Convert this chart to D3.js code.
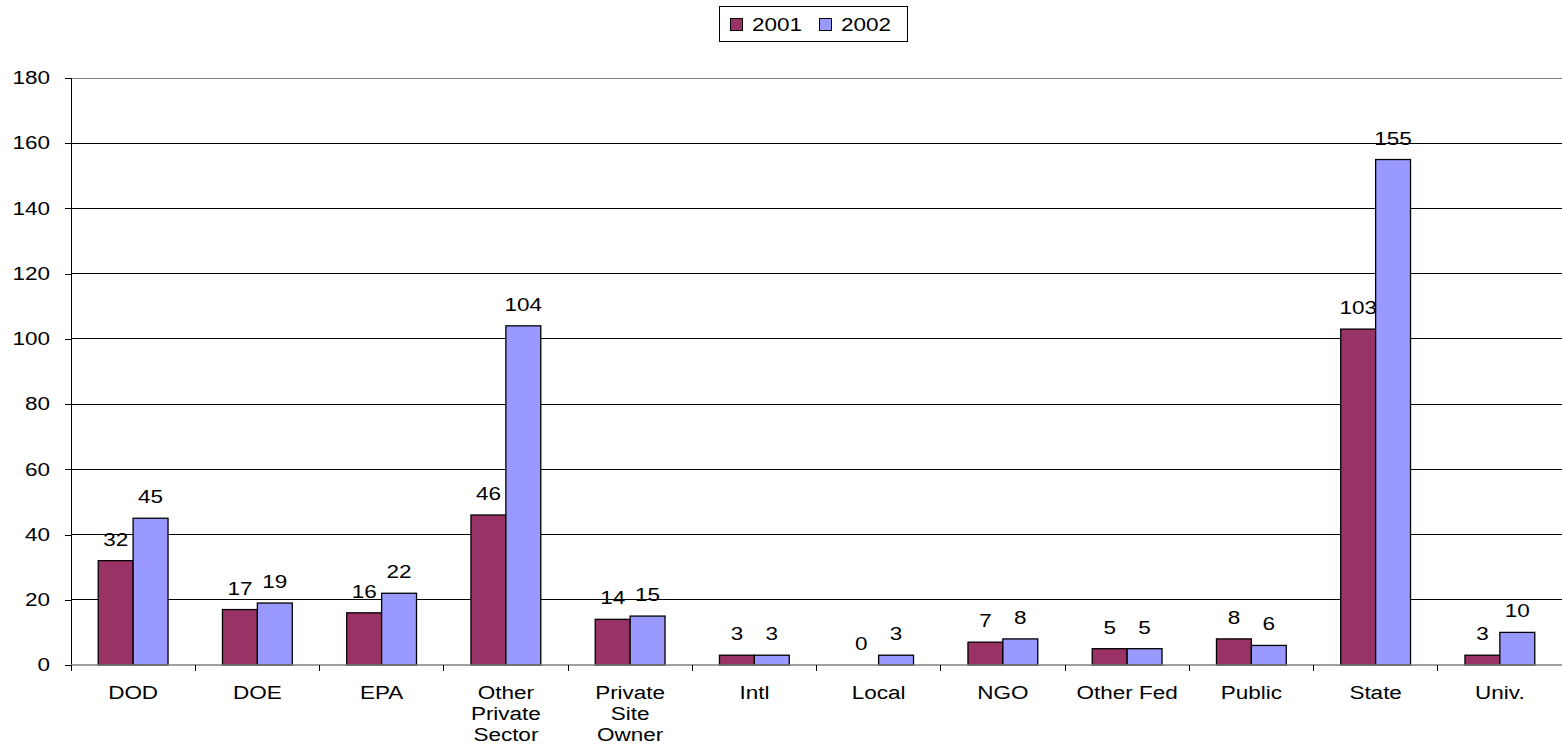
<!DOCTYPE html>
<html>
<head>
<meta charset="utf-8">
<script src="https://cdn.jsdelivr.net/npm/d3@7"></script>
<style>
  body { margin: 0; background: #fff; }
  text { font-family: "Liberation Sans", Arial, sans-serif; fill: #000; font-size: 18px; }
</style>
</head>
<body>
<svg id="chart"></svg>
<script>
let categories = ['DOD', 'DOE', 'EPA', 'Other Private Sector', 'Private Site Owner', 'Intl', 'Local', 'NGO', 'Other Fed', 'Public', 'State', 'Univ.']
let catLines = [['DOD'], ['DOE'], ['EPA'], ['Other', 'Private', 'Sector'], ['Private', 'Site', 'Owner'], ['Intl'], ['Local'], ['NGO'], ['Other Fed'], ['Public'], ['State'], ['Univ.']]
let seriesNames = ['2001', '2002']
let values2001 = [32, 17, 16, 46, 14, 3, 0, 7, 5, 8, 103, 3]
let values2002 = [45, 19, 22, 104, 15, 3, 3, 8, 5, 6, 155, 10]
let yTicks = [0, 20, 40, 60, 80, 100, 120, 140, 160, 180]
let colors = ['#993366', '#9999ff']

let width = 1562
let height = 750
let margin = { top: 78, right: 0, bottom: 85, left: 71 }
let stretch = 1.25
let svg = d3.select('#chart')
  .attr('width', width)
  .attr('height', height)

// text in the source is drawn a bit wider than normal
function widen (sel) {
  sel.each(function () {
    let tx = +this.getAttribute('x') || 0
    let ty = +this.getAttribute('y') || 0
    let old = this.getAttribute('transform') || ''
    this.setAttribute('transform', `${old} translate(${tx},${ty}) scale(${stretch},1) translate(${-tx},${-ty})`)
  })
}

let x = d3.scaleBand()
  .domain(categories)
  .range([margin.left, width - margin.right])
let x1 = d3.scaleBand()
  .domain(seriesNames)
  .range([0, x.bandwidth()])
  .paddingOuter(0.78)
let y = d3.scaleLinear()
  .domain([0, 180])
  .range([height - margin.bottom, margin.top])

// gridlines
svg.append('g')
  .selectAll('line')
  .data(yTicks.slice(1))
  .enter()
  .append('line')
  .attr('x1', margin.left)
  .attr('x2', width)
  .attr('y1', (d) => y(d))
  .attr('y2', (d) => y(d))
  .attr('stroke', (d) => d === 180 ? '#808080' : '#000')
  .attr('stroke-width', 1)
  .attr('shape-rendering', 'crispEdges')

// y axis
let yAxis = svg.append('g')
  .attr('transform', `translate(${margin.left},0)`)
  .call(d3.axisLeft(y).tickValues(yTicks).tickSize(6).tickPadding(15))
yAxis.select('.domain').attr('stroke', '#000')
yAxis.selectAll('line').attr('stroke', '#000')
yAxis.selectAll('text').style('font-size', '18px').call(widen)
yAxis.attr('shape-rendering', 'crispEdges')

// bars
let series = [values2001, values2002]
let groups = svg.append('g')
  .selectAll('g')
  .data(categories)
  .enter()
  .append('g')
  .attr('transform', (d) => `translate(${x(d)},0)`)

groups.selectAll('rect')
  .data((d, i) => series.map((s, k) => ({ name: seriesNames[k], value: s[i], k: k })))
  .enter()
  .append('rect')
  .attr('x', (d) => x1(d.name))
  .attr('width', x1.bandwidth())
  .attr('y', (d) => y(d.value))
  .attr('height', (d) => y(0) - y(d.value))
  .attr('fill', (d) => colors[d.k])
  .attr('stroke', '#000')
  .attr('stroke-width', 1.3)

groups.selectAll('text')
  .data((d, i) => series.map((s, k) => ({ name: seriesNames[k], value: s[i], k: k })))
  .enter()
  .append('text')
  .attr('x', (d) => x1(d.name) + x1.bandwidth() / 2)
  .attr('y', (d) => y(d.value) - 15)
  .attr('text-anchor', 'middle')
  .text((d) => d.value)
  .call(widen)

// x axis
let xAxis = svg.append('g')
  .attr('transform', `translate(0,${y(0)})`)
xAxis.append('line')
  .attr('x1', margin.left)
  .attr('x2', width)
  .attr('stroke', '#808080')
  .attr('stroke-width', 1.5)
xAxis.selectAll('.tick')
  .data(categories)
  .enter()
  .append('line')
  .attr('x1', (d) => x(d))
  .attr('x2', (d) => x(d))
  .attr('y1', 0)
  .attr('y2', 6)
  .attr('stroke', '#000')
  .attr('shape-rendering', 'crispEdges')
let labels = xAxis.selectAll('text')
  .data(categories)
  .enter()
  .append('text')
  .attr('text-anchor', 'middle')
  .attr('transform', (d) => `translate(${x(d) + x.bandwidth() / 2},34) scale(${stretch},1)`)
labels.selectAll('tspan')
  .data((d, i) => catLines[i])
  .enter()
  .append('tspan')
  .attr('x', 0)
  .attr('dy', (d, i) => i === 0 ? 0 : 21)
  .text((d) => d)

// legend
let legend = svg.append('g')
legend.append('rect')
  .attr('x', 719.5)
  .attr('y', 6.5)
  .attr('width', 188)
  .attr('height', 35)
  .attr('fill', '#fff')
  .attr('stroke', '#000')
let items = legend.selectAll('g')
  .data(seriesNames)
  .enter()
  .append('g')
  .attr('transform', (d, i) => `translate(${730 + i * 89},0)`)
items.append('rect')
  .attr('x', 0.5)
  .attr('y', 18.5)
  .attr('width', 12)
  .attr('height', 12)
  .attr('fill', (d, i) => colors[i])
  .attr('stroke', '#000')
items.append('text')
  .attr('x', 22)
  .attr('y', 31)
  .text((d) => d)
  .call(widen)
</script>
</body>
</html>
